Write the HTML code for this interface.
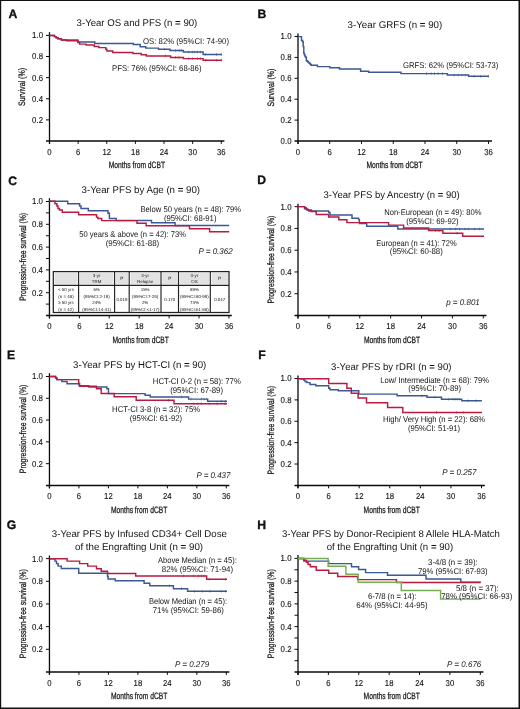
<!DOCTYPE html>
<html><head><meta charset="utf-8"><style>
html,body{margin:0;padding:0;background:#fff;}
body{width:520px;height:709px;overflow:hidden;}
svg{display:block;will-change:transform;}
text{font-family:"Liberation Sans", sans-serif;fill:#141414;text-rendering:geometricPrecision;}
</style></head><body>
<svg width="520" height="709" viewBox="0 0 520 709">
<rect x="0" y="0" width="520" height="709" fill="#fff"/>
<line x1="49.50" y1="32.20" x2="49.50" y2="143.90" stroke="#0a0a0a" stroke-width="1.3"/>
<line x1="46.00" y1="141.00" x2="224.40" y2="141.00" stroke="#0a0a0a" stroke-width="1.5"/>
<line x1="46.00" y1="119.88" x2="49.50" y2="119.88" stroke="#0a0a0a" stroke-width="1.0"/>
<line x1="46.00" y1="98.76" x2="49.50" y2="98.76" stroke="#0a0a0a" stroke-width="1.0"/>
<line x1="46.00" y1="77.64" x2="49.50" y2="77.64" stroke="#0a0a0a" stroke-width="1.0"/>
<line x1="46.00" y1="56.52" x2="49.50" y2="56.52" stroke="#0a0a0a" stroke-width="1.0"/>
<line x1="46.00" y1="35.40" x2="49.50" y2="35.40" stroke="#0a0a0a" stroke-width="1.0"/>
<line x1="49.50" y1="141.00" x2="49.50" y2="143.90" stroke="#0a0a0a" stroke-width="1.0"/>
<line x1="78.13" y1="141.00" x2="78.13" y2="143.90" stroke="#0a0a0a" stroke-width="1.0"/>
<line x1="106.77" y1="141.00" x2="106.77" y2="143.90" stroke="#0a0a0a" stroke-width="1.0"/>
<line x1="135.40" y1="141.00" x2="135.40" y2="143.90" stroke="#0a0a0a" stroke-width="1.0"/>
<line x1="164.03" y1="141.00" x2="164.03" y2="143.90" stroke="#0a0a0a" stroke-width="1.0"/>
<line x1="192.67" y1="141.00" x2="192.67" y2="143.90" stroke="#0a0a0a" stroke-width="1.0"/>
<line x1="221.30" y1="141.00" x2="221.30" y2="143.90" stroke="#0a0a0a" stroke-width="1.0"/>
<text transform="translate(43.00,122.83) scale(0.91,1)" font-size="8.6" text-anchor="end" stroke="#141414" stroke-width="0.12">0.2</text>
<text transform="translate(43.00,101.71) scale(0.91,1)" font-size="8.6" text-anchor="end" stroke="#141414" stroke-width="0.12">0.4</text>
<text transform="translate(43.00,80.59) scale(0.91,1)" font-size="8.6" text-anchor="end" stroke="#141414" stroke-width="0.12">0.6</text>
<text transform="translate(43.00,59.47) scale(0.91,1)" font-size="8.6" text-anchor="end" stroke="#141414" stroke-width="0.12">0.8</text>
<text transform="translate(43.00,38.35) scale(0.91,1)" font-size="8.6" text-anchor="end" stroke="#141414" stroke-width="0.12">1.0</text>
<text transform="translate(49.50,154.60) scale(0.9,1)" font-size="8.6" text-anchor="middle" stroke="#141414" stroke-width="0.12">0</text>
<text transform="translate(78.13,154.60) scale(0.9,1)" font-size="8.6" text-anchor="middle" stroke="#141414" stroke-width="0.12">6</text>
<text transform="translate(106.77,154.60) scale(0.9,1)" font-size="8.6" text-anchor="middle" stroke="#141414" stroke-width="0.12">12</text>
<text transform="translate(135.40,154.60) scale(0.9,1)" font-size="8.6" text-anchor="middle" stroke="#141414" stroke-width="0.12">18</text>
<text transform="translate(164.03,154.60) scale(0.9,1)" font-size="8.6" text-anchor="middle" stroke="#141414" stroke-width="0.12">24</text>
<text transform="translate(192.67,154.60) scale(0.9,1)" font-size="8.6" text-anchor="middle" stroke="#141414" stroke-width="0.12">30</text>
<text transform="translate(221.30,154.60) scale(0.9,1)" font-size="8.6" text-anchor="middle" stroke="#141414" stroke-width="0.12">36</text>
<text x="108.70" y="168.10" font-size="9.2" textLength="56.30" lengthAdjust="spacingAndGlyphs" stroke="#141414" stroke-width="0.25">Months from dCBT</text>
<text transform="translate(25.30,106.00) rotate(-90)" x="0" y="0" font-size="9.3" textLength="38.10" lengthAdjust="spacingAndGlyphs" stroke="#141414" stroke-width="0.25">Survival (%)</text>
<text x="8.50" y="17.75" font-size="12.2" font-weight="bold" fill="#000" stroke="#000" stroke-width="0.3">A</text>
<text x="76.60" y="26.40" font-size="9.8" textLength="120.70" lengthAdjust="spacingAndGlyphs" >3-Year OS and PFS (n <tspan font-weight="bold">=</tspan> 90)</text>
<text x="143.00" y="43.50" font-size="8.3" textLength="86.00" lengthAdjust="spacingAndGlyphs" >OS: 82% (95%CI: 74-90)</text>
<text x="112.00" y="71.00" font-size="8.3" textLength="89.50" lengthAdjust="spacingAndGlyphs" >PFS: 76% (95%CI: 68-86)</text>
<path d="M49.50,35.40H54.50V36.60H56.20V37.80H58.00V38.70H61.40V39.90H77.90V42.00H94.80V43.50H133.40V44.50H140.20V46.70H145.80V48.10H158.50V49.20H170.00V50.50H183.40V52.00H203.10V54.40H221.80" fill="none" stroke="#3a5894" stroke-width="1.45" stroke-linejoin="miter"/>
<path d="M164.60,47.90V50.50M175.60,49.20V51.80M179.20,49.20V51.80M181.40,49.20V51.80M188.70,50.70V53.30M192.40,50.70V53.30M194.60,50.70V53.30M197.50,50.70V53.30M200.40,50.70V53.30M205.60,53.10V55.70M216.50,53.10V55.70M221.40,53.10V55.70" stroke="#3a5894" stroke-width="0.6" fill="none"/>
<path d="M49.50,35.40H54.50V36.60H56.20V37.80H58.00V38.70H61.40V39.90H66.60V40.70H77.90V42.50H79.60V44.10H86.20V45.00H94.20V46.40H98.80V47.60H105.80V49.30H106.90V51.00H112.70V52.50H132.90V53.50H141.20V54.70H146.30V55.90H170.60V57.40H183.40V58.60H203.10V60.20H221.80" fill="none" stroke="#b81a40" stroke-width="1.45" stroke-linejoin="miter"/>
<path d="M165.40,54.60V57.20M175.60,56.10V58.70M179.00,56.10V58.70M188.70,57.30V59.90M192.40,57.30V59.90M197.50,57.30V59.90M200.40,57.30V59.90M205.60,58.90V61.50M216.50,58.90V61.50M221.40,58.90V61.50" stroke="#b81a40" stroke-width="0.6" fill="none"/>
<line x1="298.00" y1="33.50" x2="298.00" y2="143.90" stroke="#0a0a0a" stroke-width="1.3"/>
<line x1="294.50" y1="141.00" x2="492.00" y2="141.00" stroke="#0a0a0a" stroke-width="1.5"/>
<line x1="294.50" y1="120.10" x2="298.00" y2="120.10" stroke="#0a0a0a" stroke-width="1.0"/>
<line x1="294.50" y1="99.20" x2="298.00" y2="99.20" stroke="#0a0a0a" stroke-width="1.0"/>
<line x1="294.50" y1="78.30" x2="298.00" y2="78.30" stroke="#0a0a0a" stroke-width="1.0"/>
<line x1="294.50" y1="57.40" x2="298.00" y2="57.40" stroke="#0a0a0a" stroke-width="1.0"/>
<line x1="294.50" y1="36.50" x2="298.00" y2="36.50" stroke="#0a0a0a" stroke-width="1.0"/>
<line x1="298.00" y1="141.00" x2="298.00" y2="143.90" stroke="#0a0a0a" stroke-width="1.0"/>
<line x1="329.75" y1="141.00" x2="329.75" y2="143.90" stroke="#0a0a0a" stroke-width="1.0"/>
<line x1="361.50" y1="141.00" x2="361.50" y2="143.90" stroke="#0a0a0a" stroke-width="1.0"/>
<line x1="393.25" y1="141.00" x2="393.25" y2="143.90" stroke="#0a0a0a" stroke-width="1.0"/>
<line x1="425.00" y1="141.00" x2="425.00" y2="143.90" stroke="#0a0a0a" stroke-width="1.0"/>
<line x1="456.75" y1="141.00" x2="456.75" y2="143.90" stroke="#0a0a0a" stroke-width="1.0"/>
<line x1="488.50" y1="141.00" x2="488.50" y2="143.90" stroke="#0a0a0a" stroke-width="1.0"/>
<text transform="translate(291.50,143.95) scale(0.91,1)" font-size="8.6" text-anchor="end" stroke="#141414" stroke-width="0.12">0.0</text>
<text transform="translate(291.50,123.05) scale(0.91,1)" font-size="8.6" text-anchor="end" stroke="#141414" stroke-width="0.12">0.2</text>
<text transform="translate(291.50,102.15) scale(0.91,1)" font-size="8.6" text-anchor="end" stroke="#141414" stroke-width="0.12">0.4</text>
<text transform="translate(291.50,81.25) scale(0.91,1)" font-size="8.6" text-anchor="end" stroke="#141414" stroke-width="0.12">0.6</text>
<text transform="translate(291.50,60.35) scale(0.91,1)" font-size="8.6" text-anchor="end" stroke="#141414" stroke-width="0.12">0.8</text>
<text transform="translate(291.50,39.45) scale(0.91,1)" font-size="8.6" text-anchor="end" stroke="#141414" stroke-width="0.12">1.0</text>
<text transform="translate(298.00,154.60) scale(0.9,1)" font-size="8.6" text-anchor="middle" stroke="#141414" stroke-width="0.12">0</text>
<text transform="translate(329.75,154.60) scale(0.9,1)" font-size="8.6" text-anchor="middle" stroke="#141414" stroke-width="0.12">6</text>
<text transform="translate(361.50,154.60) scale(0.9,1)" font-size="8.6" text-anchor="middle" stroke="#141414" stroke-width="0.12">12</text>
<text transform="translate(393.25,154.60) scale(0.9,1)" font-size="8.6" text-anchor="middle" stroke="#141414" stroke-width="0.12">18</text>
<text transform="translate(425.00,154.60) scale(0.9,1)" font-size="8.6" text-anchor="middle" stroke="#141414" stroke-width="0.12">24</text>
<text transform="translate(456.75,154.60) scale(0.9,1)" font-size="8.6" text-anchor="middle" stroke="#141414" stroke-width="0.12">30</text>
<text transform="translate(488.50,154.60) scale(0.9,1)" font-size="8.6" text-anchor="middle" stroke="#141414" stroke-width="0.12">36</text>
<text x="366.40" y="168.10" font-size="9.2" textLength="56.30" lengthAdjust="spacingAndGlyphs" stroke="#141414" stroke-width="0.25">Months from dCBT</text>
<text transform="translate(273.80,106.50) rotate(-90)" x="0" y="0" font-size="9.3" textLength="37.90" lengthAdjust="spacingAndGlyphs" stroke="#141414" stroke-width="0.25">Survival (%)</text>
<text x="257.50" y="17.85" font-size="12.2" font-weight="bold" fill="#000" stroke="#000" stroke-width="0.3">B</text>
<text x="347.60" y="27.60" font-size="9.8" textLength="94.70" lengthAdjust="spacingAndGlyphs" >3-Year GRFS (n <tspan font-weight="bold">=</tspan> 90)</text>
<text x="403.10" y="68.45" font-size="8.3" textLength="95.20" lengthAdjust="spacingAndGlyphs" >GRFS: 62% (95%CI: 53-73)</text>
<path d="M298.00,36.60H301.50V40.50H302.60V41.70H303.20V46.60H303.80V53.20H304.40V55.00H305.00V56.40H305.80V57.50H306.40V60.70H307.20V61.30H307.90V61.90H308.60V62.60H309.30V63.30H310.00V64.00H310.70V64.70H311.30V65.30H317.40V66.60H329.80V67.80H339.50V69.00H360.60V71.20H368.60V72.20H401.00V73.60H447.40V75.00H468.60V76.30H488.90" fill="none" stroke="#3a5894" stroke-width="1.45" stroke-linejoin="miter"/>
<path d="M426.50,72.30V74.90M431.00,72.30V74.90M434.50,72.30V74.90M438.00,72.30V74.90M442.50,72.30V74.90M454.00,73.70V76.30M458.40,73.70V76.30M462.00,73.70V76.30M465.50,73.70V76.30M474.30,75.00V77.60M480.50,75.00V77.60M488.40,75.00V77.60" stroke="#3a5894" stroke-width="0.6" fill="none"/>
<line x1="49.45" y1="198.20" x2="49.45" y2="318.40" stroke="#0a0a0a" stroke-width="1.3"/>
<line x1="45.95" y1="315.50" x2="231.80" y2="315.50" stroke="#0a0a0a" stroke-width="1.5"/>
<line x1="45.95" y1="292.70" x2="49.45" y2="292.70" stroke="#0a0a0a" stroke-width="1.0"/>
<line x1="45.95" y1="269.90" x2="49.45" y2="269.90" stroke="#0a0a0a" stroke-width="1.0"/>
<line x1="45.95" y1="247.10" x2="49.45" y2="247.10" stroke="#0a0a0a" stroke-width="1.0"/>
<line x1="45.95" y1="224.30" x2="49.45" y2="224.30" stroke="#0a0a0a" stroke-width="1.0"/>
<line x1="45.95" y1="201.50" x2="49.45" y2="201.50" stroke="#0a0a0a" stroke-width="1.0"/>
<line x1="45.95" y1="304.10" x2="49.45" y2="304.10" stroke="#0a0a0a" stroke-width="1.0"/>
<line x1="45.95" y1="281.30" x2="49.45" y2="281.30" stroke="#0a0a0a" stroke-width="1.0"/>
<line x1="45.95" y1="258.50" x2="49.45" y2="258.50" stroke="#0a0a0a" stroke-width="1.0"/>
<line x1="45.95" y1="235.70" x2="49.45" y2="235.70" stroke="#0a0a0a" stroke-width="1.0"/>
<line x1="45.95" y1="212.90" x2="49.45" y2="212.90" stroke="#0a0a0a" stroke-width="1.0"/>
<line x1="49.45" y1="315.50" x2="49.45" y2="318.40" stroke="#0a0a0a" stroke-width="1.0"/>
<line x1="79.37" y1="315.50" x2="79.37" y2="318.40" stroke="#0a0a0a" stroke-width="1.0"/>
<line x1="109.28" y1="315.50" x2="109.28" y2="318.40" stroke="#0a0a0a" stroke-width="1.0"/>
<line x1="139.20" y1="315.50" x2="139.20" y2="318.40" stroke="#0a0a0a" stroke-width="1.0"/>
<line x1="169.12" y1="315.50" x2="169.12" y2="318.40" stroke="#0a0a0a" stroke-width="1.0"/>
<line x1="199.03" y1="315.50" x2="199.03" y2="318.40" stroke="#0a0a0a" stroke-width="1.0"/>
<line x1="228.95" y1="315.50" x2="228.95" y2="318.40" stroke="#0a0a0a" stroke-width="1.0"/>
<text transform="translate(42.95,295.65) scale(0.91,1)" font-size="8.6" text-anchor="end" stroke="#141414" stroke-width="0.12">0.2</text>
<text transform="translate(42.95,272.85) scale(0.91,1)" font-size="8.6" text-anchor="end" stroke="#141414" stroke-width="0.12">0.4</text>
<text transform="translate(42.95,250.05) scale(0.91,1)" font-size="8.6" text-anchor="end" stroke="#141414" stroke-width="0.12">0.6</text>
<text transform="translate(42.95,227.25) scale(0.91,1)" font-size="8.6" text-anchor="end" stroke="#141414" stroke-width="0.12">0.8</text>
<text transform="translate(42.95,204.45) scale(0.91,1)" font-size="8.6" text-anchor="end" stroke="#141414" stroke-width="0.12">1.0</text>
<text transform="translate(49.45,329.10) scale(0.9,1)" font-size="8.6" text-anchor="middle" stroke="#141414" stroke-width="0.12">0</text>
<text transform="translate(79.37,329.10) scale(0.9,1)" font-size="8.6" text-anchor="middle" stroke="#141414" stroke-width="0.12">6</text>
<text transform="translate(109.28,329.10) scale(0.9,1)" font-size="8.6" text-anchor="middle" stroke="#141414" stroke-width="0.12">12</text>
<text transform="translate(139.20,329.10) scale(0.9,1)" font-size="8.6" text-anchor="middle" stroke="#141414" stroke-width="0.12">18</text>
<text transform="translate(169.12,329.10) scale(0.9,1)" font-size="8.6" text-anchor="middle" stroke="#141414" stroke-width="0.12">24</text>
<text transform="translate(199.03,329.10) scale(0.9,1)" font-size="8.6" text-anchor="middle" stroke="#141414" stroke-width="0.12">30</text>
<text transform="translate(228.95,329.10) scale(0.9,1)" font-size="8.6" text-anchor="middle" stroke="#141414" stroke-width="0.12">36</text>
<text x="112.50" y="342.60" font-size="9.2" textLength="56.30" lengthAdjust="spacingAndGlyphs" stroke="#141414" stroke-width="0.25">Months from dCBT</text>
<text transform="translate(26.20,300.80) rotate(-90)" x="0" y="0" font-size="9.3" textLength="87.90" lengthAdjust="spacingAndGlyphs" stroke="#141414" stroke-width="0.25">Progression-free survival (%)</text>
<text x="8.30" y="184.65" font-size="12.2" font-weight="bold" fill="#000" stroke="#000" stroke-width="0.3">C</text>
<text x="81.60" y="193.10" font-size="9.8" textLength="118.50" lengthAdjust="spacingAndGlyphs" >3-Year PFS by Age (n <tspan font-weight="bold">=</tspan> 90)</text>
<text x="140.40" y="211.70" font-size="8.3" textLength="100.80" lengthAdjust="spacingAndGlyphs" >Below 50 years (n <tspan font-weight="bold">=</tspan> 48): 79%</text>
<text x="163.90" y="220.50" font-size="8.3" textLength="52.60" lengthAdjust="spacingAndGlyphs" >(95%CI: 68-91)</text>
<text x="79.20" y="237.20" font-size="8.3" textLength="106.80" lengthAdjust="spacingAndGlyphs" >50 years &amp; above (n <tspan font-weight="bold">=</tspan> 42): 73%</text>
<text x="105.70" y="245.50" font-size="8.3" textLength="53.50" lengthAdjust="spacingAndGlyphs" >(95%CI: 61-88)</text>
<text x="198.50" y="253.90" font-size="8.3" textLength="34.20" lengthAdjust="spacingAndGlyphs" font-style="italic" >P <tspan font-weight="bold">=</tspan> 0.362</text>
<path d="M49.60,201.20H67.70V203.70H79.60V206.00H81.00V208.50H88.30V210.80H108.00V213.30H109.40V218.50H116.20V220.50H151.50V222.80H175.10V225.50H229.20" fill="none" stroke="#3a5894" stroke-width="1.45" stroke-linejoin="miter"/>
<path d="M49.60,201.20H55.00V203.70H56.90V206.00H58.00V208.50H59.40V210.00H62.30V212.30H78.70V214.70H96.50V217.10H97.90V218.50H101.70V220.60H137.00V223.30H146.20V225.80H189.50V228.80H209.60V231.80H229.20" fill="none" stroke="#b81a40" stroke-width="1.45" stroke-linejoin="miter"/>
<line x1="298.00" y1="203.80" x2="298.00" y2="318.40" stroke="#0a0a0a" stroke-width="1.3"/>
<line x1="294.50" y1="315.50" x2="486.40" y2="315.50" stroke="#0a0a0a" stroke-width="1.5"/>
<line x1="294.50" y1="293.73" x2="298.00" y2="293.73" stroke="#0a0a0a" stroke-width="1.0"/>
<line x1="294.50" y1="271.96" x2="298.00" y2="271.96" stroke="#0a0a0a" stroke-width="1.0"/>
<line x1="294.50" y1="250.19" x2="298.00" y2="250.19" stroke="#0a0a0a" stroke-width="1.0"/>
<line x1="294.50" y1="228.42" x2="298.00" y2="228.42" stroke="#0a0a0a" stroke-width="1.0"/>
<line x1="294.50" y1="206.65" x2="298.00" y2="206.65" stroke="#0a0a0a" stroke-width="1.0"/>
<line x1="298.00" y1="315.50" x2="298.00" y2="318.40" stroke="#0a0a0a" stroke-width="1.0"/>
<line x1="328.88" y1="315.50" x2="328.88" y2="318.40" stroke="#0a0a0a" stroke-width="1.0"/>
<line x1="359.77" y1="315.50" x2="359.77" y2="318.40" stroke="#0a0a0a" stroke-width="1.0"/>
<line x1="390.65" y1="315.50" x2="390.65" y2="318.40" stroke="#0a0a0a" stroke-width="1.0"/>
<line x1="421.53" y1="315.50" x2="421.53" y2="318.40" stroke="#0a0a0a" stroke-width="1.0"/>
<line x1="452.42" y1="315.50" x2="452.42" y2="318.40" stroke="#0a0a0a" stroke-width="1.0"/>
<line x1="483.30" y1="315.50" x2="483.30" y2="318.40" stroke="#0a0a0a" stroke-width="1.0"/>
<text transform="translate(291.50,296.68) scale(0.91,1)" font-size="8.6" text-anchor="end" stroke="#141414" stroke-width="0.12">0.2</text>
<text transform="translate(291.50,274.91) scale(0.91,1)" font-size="8.6" text-anchor="end" stroke="#141414" stroke-width="0.12">0.4</text>
<text transform="translate(291.50,253.14) scale(0.91,1)" font-size="8.6" text-anchor="end" stroke="#141414" stroke-width="0.12">0.6</text>
<text transform="translate(291.50,231.37) scale(0.91,1)" font-size="8.6" text-anchor="end" stroke="#141414" stroke-width="0.12">0.8</text>
<text transform="translate(291.50,209.60) scale(0.91,1)" font-size="8.6" text-anchor="end" stroke="#141414" stroke-width="0.12">1.0</text>
<text transform="translate(298.00,329.10) scale(0.9,1)" font-size="8.6" text-anchor="middle" stroke="#141414" stroke-width="0.12">0</text>
<text transform="translate(328.88,329.10) scale(0.9,1)" font-size="8.6" text-anchor="middle" stroke="#141414" stroke-width="0.12">6</text>
<text transform="translate(359.77,329.10) scale(0.9,1)" font-size="8.6" text-anchor="middle" stroke="#141414" stroke-width="0.12">12</text>
<text transform="translate(390.65,329.10) scale(0.9,1)" font-size="8.6" text-anchor="middle" stroke="#141414" stroke-width="0.12">18</text>
<text transform="translate(421.53,329.10) scale(0.9,1)" font-size="8.6" text-anchor="middle" stroke="#141414" stroke-width="0.12">24</text>
<text transform="translate(452.42,329.10) scale(0.9,1)" font-size="8.6" text-anchor="middle" stroke="#141414" stroke-width="0.12">30</text>
<text transform="translate(483.30,329.10) scale(0.9,1)" font-size="8.6" text-anchor="middle" stroke="#141414" stroke-width="0.12">36</text>
<text x="363.90" y="342.60" font-size="9.2" textLength="56.30" lengthAdjust="spacingAndGlyphs" stroke="#141414" stroke-width="0.25">Months from dCBT</text>
<text transform="translate(273.90,303.60) rotate(-90)" x="0" y="0" font-size="9.3" textLength="88.00" lengthAdjust="spacingAndGlyphs" stroke="#141414" stroke-width="0.25">Progression-free survival (%)</text>
<text x="257.30" y="184.15" font-size="12.2" font-weight="bold" fill="#000" stroke="#000" stroke-width="0.3">D</text>
<text x="323.60" y="198.30" font-size="9.8" textLength="136.10" lengthAdjust="spacingAndGlyphs" >3-Year PFS by Ancestry (n <tspan font-weight="bold">=</tspan> 90)</text>
<text x="384.20" y="215.20" font-size="8.3" textLength="97.30" lengthAdjust="spacingAndGlyphs" >Non-European (n <tspan font-weight="bold">=</tspan> 49): 80%</text>
<text x="406.20" y="223.70" font-size="8.3" textLength="52.50" lengthAdjust="spacingAndGlyphs" >(95%CI: 69-92)</text>
<text x="376.30" y="245.80" font-size="8.3" textLength="80.30" lengthAdjust="spacingAndGlyphs" >European (n <tspan font-weight="bold">=</tspan> 41): 72%</text>
<text x="389.80" y="254.00" font-size="8.3" textLength="53.00" lengthAdjust="spacingAndGlyphs" >(95%CI: 60-88)</text>
<text x="446.20" y="304.60" font-size="8.3" textLength="33.60" lengthAdjust="spacingAndGlyphs" font-style="italic" >p <tspan font-weight="bold">=</tspan> 0.801</text>
<path d="M297.80,206.60H304.60V208.70H306.90V210.00H308.80V211.00H328.70V212.50H330.00V215.00H352.00V218.30H358.60V219.60H359.40V223.50H366.70V226.30H397.80V229.00H484.00" fill="none" stroke="#3a5894" stroke-width="1.45" stroke-linejoin="miter"/>
<path d="M450.20,227.70V230.30M455.40,227.70V230.30M459.70,227.70V230.30M464.90,227.70V230.30M468.30,227.70V230.30M474.40,227.70V230.30M479.60,227.70V230.30" stroke="#3a5894" stroke-width="0.6" fill="none"/>
<path d="M297.80,206.60H304.60V207.70H306.20V209.20H308.00V210.00H311.30V211.50H316.20V214.40H328.70V216.90H338.80V219.80H346.90V222.60H388.60V225.10H403.60V228.00H428.60V230.60H442.90V233.20H462.70V236.30H484.00" fill="none" stroke="#b81a40" stroke-width="1.45" stroke-linejoin="miter"/>
<path d="M435.50,229.30V231.90M439.00,229.30V231.90M457.10,231.90V234.50" stroke="#b81a40" stroke-width="0.6" fill="none"/>
<line x1="49.45" y1="373.20" x2="49.45" y2="488.35" stroke="#0a0a0a" stroke-width="1.3"/>
<line x1="45.95" y1="485.45" x2="229.40" y2="485.45" stroke="#0a0a0a" stroke-width="1.5"/>
<line x1="45.95" y1="463.66" x2="49.45" y2="463.66" stroke="#0a0a0a" stroke-width="1.0"/>
<line x1="45.95" y1="441.87" x2="49.45" y2="441.87" stroke="#0a0a0a" stroke-width="1.0"/>
<line x1="45.95" y1="420.08" x2="49.45" y2="420.08" stroke="#0a0a0a" stroke-width="1.0"/>
<line x1="45.95" y1="398.29" x2="49.45" y2="398.29" stroke="#0a0a0a" stroke-width="1.0"/>
<line x1="45.95" y1="376.50" x2="49.45" y2="376.50" stroke="#0a0a0a" stroke-width="1.0"/>
<line x1="49.45" y1="485.45" x2="49.45" y2="488.35" stroke="#0a0a0a" stroke-width="1.0"/>
<line x1="78.93" y1="485.45" x2="78.93" y2="488.35" stroke="#0a0a0a" stroke-width="1.0"/>
<line x1="108.40" y1="485.45" x2="108.40" y2="488.35" stroke="#0a0a0a" stroke-width="1.0"/>
<line x1="137.88" y1="485.45" x2="137.88" y2="488.35" stroke="#0a0a0a" stroke-width="1.0"/>
<line x1="167.35" y1="485.45" x2="167.35" y2="488.35" stroke="#0a0a0a" stroke-width="1.0"/>
<line x1="196.83" y1="485.45" x2="196.83" y2="488.35" stroke="#0a0a0a" stroke-width="1.0"/>
<line x1="226.30" y1="485.45" x2="226.30" y2="488.35" stroke="#0a0a0a" stroke-width="1.0"/>
<text transform="translate(42.95,466.61) scale(0.91,1)" font-size="8.6" text-anchor="end" stroke="#141414" stroke-width="0.12">0.2</text>
<text transform="translate(42.95,444.82) scale(0.91,1)" font-size="8.6" text-anchor="end" stroke="#141414" stroke-width="0.12">0.4</text>
<text transform="translate(42.95,423.03) scale(0.91,1)" font-size="8.6" text-anchor="end" stroke="#141414" stroke-width="0.12">0.6</text>
<text transform="translate(42.95,401.24) scale(0.91,1)" font-size="8.6" text-anchor="end" stroke="#141414" stroke-width="0.12">0.8</text>
<text transform="translate(42.95,379.45) scale(0.91,1)" font-size="8.6" text-anchor="end" stroke="#141414" stroke-width="0.12">1.0</text>
<text transform="translate(49.45,499.05) scale(0.9,1)" font-size="8.6" text-anchor="middle" stroke="#141414" stroke-width="0.12">0</text>
<text transform="translate(78.93,499.05) scale(0.9,1)" font-size="8.6" text-anchor="middle" stroke="#141414" stroke-width="0.12">6</text>
<text transform="translate(108.40,499.05) scale(0.9,1)" font-size="8.6" text-anchor="middle" stroke="#141414" stroke-width="0.12">12</text>
<text transform="translate(137.88,499.05) scale(0.9,1)" font-size="8.6" text-anchor="middle" stroke="#141414" stroke-width="0.12">18</text>
<text transform="translate(167.35,499.05) scale(0.9,1)" font-size="8.6" text-anchor="middle" stroke="#141414" stroke-width="0.12">24</text>
<text transform="translate(196.83,499.05) scale(0.9,1)" font-size="8.6" text-anchor="middle" stroke="#141414" stroke-width="0.12">30</text>
<text transform="translate(226.30,499.05) scale(0.9,1)" font-size="8.6" text-anchor="middle" stroke="#141414" stroke-width="0.12">36</text>
<text x="111.00" y="512.55" font-size="9.2" textLength="56.30" lengthAdjust="spacingAndGlyphs" stroke="#141414" stroke-width="0.25">Months from dCBT</text>
<text transform="translate(25.90,473.20) rotate(-90)" x="0" y="0" font-size="9.3" textLength="88.60" lengthAdjust="spacingAndGlyphs" stroke="#141414" stroke-width="0.25">Progression-free survival (%)</text>
<text x="7.10" y="359.05" font-size="12.2" font-weight="bold" fill="#000" stroke="#000" stroke-width="0.3">E</text>
<text x="73.10" y="367.80" font-size="9.8" textLength="133.20" lengthAdjust="spacingAndGlyphs" >3-Year PFS by HCT-CI (n <tspan font-weight="bold">=</tspan> 90)</text>
<text x="152.80" y="383.90" font-size="8.3" textLength="88.00" lengthAdjust="spacingAndGlyphs" >HCT-CI 0-2 (n <tspan font-weight="bold">=</tspan> 58): 77%</text>
<text x="170.20" y="392.50" font-size="8.3" textLength="52.80" lengthAdjust="spacingAndGlyphs" >(95%CI: 67-89)</text>
<text x="112.10" y="411.50" font-size="8.3" textLength="88.00" lengthAdjust="spacingAndGlyphs" >HCT-CI 3-8 (n <tspan font-weight="bold">=</tspan> 32): 75%</text>
<text x="129.70" y="420.70" font-size="8.3" textLength="52.50" lengthAdjust="spacingAndGlyphs" >(95%CI: 61-92)</text>
<text x="196.50" y="477.60" font-size="8.3" textLength="33.90" lengthAdjust="spacingAndGlyphs" font-style="italic" >P <tspan font-weight="bold">=</tspan> 0.437</text>
<path d="M49.60,376.50H55.60V378.10H56.90V379.60H61.90V381.50H67.10V383.80H79.20V385.80H88.80V386.90H106.90V388.80H108.50V393.60H145.10V395.20H150.20V396.90H188.60V399.10H207.70V401.20H227.00" fill="none" stroke="#3a5894" stroke-width="1.45" stroke-linejoin="miter"/>
<path d="M181.50,395.60V398.20M191.00,397.80V400.40M201.40,397.80V400.40M204.00,397.80V400.40M206.60,397.80V400.40M221.30,399.90V402.50M225.60,399.90V402.50" stroke="#3a5894" stroke-width="0.6" fill="none"/>
<path d="M49.60,376.50H55.60V377.70H56.90V379.60H78.70V383.50H79.60V386.30H96.50V388.80H101.20V393.50H114.20V396.80H136.20V400.30H174.00V403.80H227.00" fill="none" stroke="#b81a40" stroke-width="1.45" stroke-linejoin="miter"/>
<path d="M168.50,399.00V401.60M193.60,402.50V405.10M198.00,402.50V405.10M201.40,402.50V405.10M209.20,402.50V405.10M217.00,402.50V405.10M224.80,402.50V405.10" stroke="#b81a40" stroke-width="0.6" fill="none"/>
<line x1="298.00" y1="375.40" x2="298.00" y2="488.30" stroke="#0a0a0a" stroke-width="1.3"/>
<line x1="294.50" y1="485.40" x2="484.80" y2="485.40" stroke="#0a0a0a" stroke-width="1.5"/>
<line x1="294.50" y1="464.02" x2="298.00" y2="464.02" stroke="#0a0a0a" stroke-width="1.0"/>
<line x1="294.50" y1="442.64" x2="298.00" y2="442.64" stroke="#0a0a0a" stroke-width="1.0"/>
<line x1="294.50" y1="421.26" x2="298.00" y2="421.26" stroke="#0a0a0a" stroke-width="1.0"/>
<line x1="294.50" y1="399.88" x2="298.00" y2="399.88" stroke="#0a0a0a" stroke-width="1.0"/>
<line x1="294.50" y1="378.50" x2="298.00" y2="378.50" stroke="#0a0a0a" stroke-width="1.0"/>
<line x1="298.00" y1="485.40" x2="298.00" y2="488.30" stroke="#0a0a0a" stroke-width="1.0"/>
<line x1="328.58" y1="485.40" x2="328.58" y2="488.30" stroke="#0a0a0a" stroke-width="1.0"/>
<line x1="359.17" y1="485.40" x2="359.17" y2="488.30" stroke="#0a0a0a" stroke-width="1.0"/>
<line x1="389.75" y1="485.40" x2="389.75" y2="488.30" stroke="#0a0a0a" stroke-width="1.0"/>
<line x1="420.33" y1="485.40" x2="420.33" y2="488.30" stroke="#0a0a0a" stroke-width="1.0"/>
<line x1="450.92" y1="485.40" x2="450.92" y2="488.30" stroke="#0a0a0a" stroke-width="1.0"/>
<line x1="481.50" y1="485.40" x2="481.50" y2="488.30" stroke="#0a0a0a" stroke-width="1.0"/>
<text transform="translate(291.50,466.97) scale(0.91,1)" font-size="8.6" text-anchor="end" stroke="#141414" stroke-width="0.12">0.2</text>
<text transform="translate(291.50,445.59) scale(0.91,1)" font-size="8.6" text-anchor="end" stroke="#141414" stroke-width="0.12">0.4</text>
<text transform="translate(291.50,424.21) scale(0.91,1)" font-size="8.6" text-anchor="end" stroke="#141414" stroke-width="0.12">0.6</text>
<text transform="translate(291.50,402.83) scale(0.91,1)" font-size="8.6" text-anchor="end" stroke="#141414" stroke-width="0.12">0.8</text>
<text transform="translate(291.50,381.45) scale(0.91,1)" font-size="8.6" text-anchor="end" stroke="#141414" stroke-width="0.12">1.0</text>
<text transform="translate(298.00,499.00) scale(0.9,1)" font-size="8.6" text-anchor="middle" stroke="#141414" stroke-width="0.12">0</text>
<text transform="translate(328.58,499.00) scale(0.9,1)" font-size="8.6" text-anchor="middle" stroke="#141414" stroke-width="0.12">6</text>
<text transform="translate(359.17,499.00) scale(0.9,1)" font-size="8.6" text-anchor="middle" stroke="#141414" stroke-width="0.12">12</text>
<text transform="translate(389.75,499.00) scale(0.9,1)" font-size="8.6" text-anchor="middle" stroke="#141414" stroke-width="0.12">18</text>
<text transform="translate(420.33,499.00) scale(0.9,1)" font-size="8.6" text-anchor="middle" stroke="#141414" stroke-width="0.12">24</text>
<text transform="translate(450.92,499.00) scale(0.9,1)" font-size="8.6" text-anchor="middle" stroke="#141414" stroke-width="0.12">30</text>
<text transform="translate(481.50,499.00) scale(0.9,1)" font-size="8.6" text-anchor="middle" stroke="#141414" stroke-width="0.12">36</text>
<text x="363.60" y="512.50" font-size="9.2" textLength="56.30" lengthAdjust="spacingAndGlyphs" stroke="#141414" stroke-width="0.25">Months from dCBT</text>
<text transform="translate(273.90,474.40) rotate(-90)" x="0" y="0" font-size="9.3" textLength="88.40" lengthAdjust="spacingAndGlyphs" stroke="#141414" stroke-width="0.25">Progression-free survival (%)</text>
<text x="258.20" y="359.05" font-size="12.2" font-weight="bold" fill="#000" stroke="#000" stroke-width="0.3">F</text>
<text x="331.10" y="369.50" font-size="9.8" textLength="120.40" lengthAdjust="spacingAndGlyphs" >3-Year PFS by rDRI (n <tspan font-weight="bold">=</tspan> 90)</text>
<text x="380.20" y="382.70" font-size="8.3" textLength="108.80" lengthAdjust="spacingAndGlyphs" >Low/ Intermediate (n <tspan font-weight="bold">=</tspan> 68): 79%</text>
<text x="408.30" y="391.30" font-size="8.3" textLength="52.90" lengthAdjust="spacingAndGlyphs" >(95%CI: 70-89)</text>
<text x="382.90" y="422.10" font-size="8.3" textLength="102.30" lengthAdjust="spacingAndGlyphs" >High/ Very High (n <tspan font-weight="bold">=</tspan> 22): 68%</text>
<text x="407.90" y="430.70" font-size="8.3" textLength="52.30" lengthAdjust="spacingAndGlyphs" >(95%CI: 51-91)</text>
<text x="442.30" y="474.90" font-size="8.3" textLength="34.20" lengthAdjust="spacingAndGlyphs" font-style="italic" >P <tspan font-weight="bold">=</tspan> 0.257</text>
<path d="M297.80,378.70H303.70V380.10H305.00V381.50H306.90V382.60H310.00V384.50H315.80V385.80H328.70V388.30H330.00V389.70H338.30V390.80H358.80V394.10H397.10V395.80H427.00V397.20H441.50V399.20H461.70V400.80H481.90" fill="none" stroke="#3a5894" stroke-width="1.45" stroke-linejoin="miter"/>
<path d="M421.80,394.50V397.10M434.80,395.90V398.50M448.60,397.90V400.50M453.00,397.90V400.50M455.00,397.90V400.50M457.20,397.90V400.50M459.40,397.90V400.50M467.70,399.50V402.10M476.30,399.50V402.10" stroke="#3a5894" stroke-width="0.6" fill="none"/>
<path d="M297.80,378.70H328.70V383.50H346.90V388.30H351.30V393.20H358.10V398.00H366.50V402.80H387.60V407.40H402.80V412.40H481.90" fill="none" stroke="#b81a40" stroke-width="1.45" stroke-linejoin="miter"/>
<path d="M436.50,411.10V413.70M456.40,411.10V413.70M463.30,411.10V413.70" stroke="#b81a40" stroke-width="0.6" fill="none"/>
<line x1="49.45" y1="555.50" x2="49.45" y2="674.85" stroke="#0a0a0a" stroke-width="1.3"/>
<line x1="45.95" y1="671.95" x2="229.40" y2="671.95" stroke="#0a0a0a" stroke-width="1.5"/>
<line x1="45.95" y1="649.29" x2="49.45" y2="649.29" stroke="#0a0a0a" stroke-width="1.0"/>
<line x1="45.95" y1="626.63" x2="49.45" y2="626.63" stroke="#0a0a0a" stroke-width="1.0"/>
<line x1="45.95" y1="603.97" x2="49.45" y2="603.97" stroke="#0a0a0a" stroke-width="1.0"/>
<line x1="45.95" y1="581.31" x2="49.45" y2="581.31" stroke="#0a0a0a" stroke-width="1.0"/>
<line x1="45.95" y1="558.65" x2="49.45" y2="558.65" stroke="#0a0a0a" stroke-width="1.0"/>
<line x1="49.45" y1="671.95" x2="49.45" y2="674.85" stroke="#0a0a0a" stroke-width="1.0"/>
<line x1="78.93" y1="671.95" x2="78.93" y2="674.85" stroke="#0a0a0a" stroke-width="1.0"/>
<line x1="108.40" y1="671.95" x2="108.40" y2="674.85" stroke="#0a0a0a" stroke-width="1.0"/>
<line x1="137.88" y1="671.95" x2="137.88" y2="674.85" stroke="#0a0a0a" stroke-width="1.0"/>
<line x1="167.35" y1="671.95" x2="167.35" y2="674.85" stroke="#0a0a0a" stroke-width="1.0"/>
<line x1="196.83" y1="671.95" x2="196.83" y2="674.85" stroke="#0a0a0a" stroke-width="1.0"/>
<line x1="226.30" y1="671.95" x2="226.30" y2="674.85" stroke="#0a0a0a" stroke-width="1.0"/>
<text transform="translate(42.95,652.24) scale(0.91,1)" font-size="8.6" text-anchor="end" stroke="#141414" stroke-width="0.12">0.2</text>
<text transform="translate(42.95,629.58) scale(0.91,1)" font-size="8.6" text-anchor="end" stroke="#141414" stroke-width="0.12">0.4</text>
<text transform="translate(42.95,606.92) scale(0.91,1)" font-size="8.6" text-anchor="end" stroke="#141414" stroke-width="0.12">0.6</text>
<text transform="translate(42.95,584.26) scale(0.91,1)" font-size="8.6" text-anchor="end" stroke="#141414" stroke-width="0.12">0.8</text>
<text transform="translate(42.95,561.60) scale(0.91,1)" font-size="8.6" text-anchor="end" stroke="#141414" stroke-width="0.12">1.0</text>
<text transform="translate(49.45,685.55) scale(0.9,1)" font-size="8.6" text-anchor="middle" stroke="#141414" stroke-width="0.12">0</text>
<text transform="translate(78.93,685.55) scale(0.9,1)" font-size="8.6" text-anchor="middle" stroke="#141414" stroke-width="0.12">6</text>
<text transform="translate(108.40,685.55) scale(0.9,1)" font-size="8.6" text-anchor="middle" stroke="#141414" stroke-width="0.12">12</text>
<text transform="translate(137.88,685.55) scale(0.9,1)" font-size="8.6" text-anchor="middle" stroke="#141414" stroke-width="0.12">18</text>
<text transform="translate(167.35,685.55) scale(0.9,1)" font-size="8.6" text-anchor="middle" stroke="#141414" stroke-width="0.12">24</text>
<text transform="translate(196.83,685.55) scale(0.9,1)" font-size="8.6" text-anchor="middle" stroke="#141414" stroke-width="0.12">30</text>
<text transform="translate(226.30,685.55) scale(0.9,1)" font-size="8.6" text-anchor="middle" stroke="#141414" stroke-width="0.12">36</text>
<text x="111.00" y="699.05" font-size="9.2" textLength="56.30" lengthAdjust="spacingAndGlyphs" stroke="#141414" stroke-width="0.25">Months from dCBT</text>
<text transform="translate(25.90,658.20) rotate(-90)" x="0" y="0" font-size="9.3" textLength="89.00" lengthAdjust="spacingAndGlyphs" stroke="#141414" stroke-width="0.25">Progression-free survival (%)</text>
<text x="6.70" y="528.95" font-size="12.2" font-weight="bold" fill="#000" stroke="#000" stroke-width="0.3">G</text>
<text x="51.80" y="537.20" font-size="9.8" textLength="175.20" lengthAdjust="spacingAndGlyphs" >3-Year PFS by Infused CD34+ Cell Dose</text>
<text x="75.00" y="549.80" font-size="9.8" textLength="128.10" lengthAdjust="spacingAndGlyphs" >of the Engrafting Unit (n <tspan font-weight="bold">=</tspan> 90)</text>
<text x="158.00" y="563.20" font-size="8.3" textLength="78.90" lengthAdjust="spacingAndGlyphs" >Above Median (n <tspan font-weight="bold">=</tspan> 45):</text>
<text x="161.80" y="572.00" font-size="8.3" textLength="71.30" lengthAdjust="spacingAndGlyphs" >82% (95%CI: 71-94)</text>
<text x="148.90" y="604.00" font-size="8.3" textLength="78.30" lengthAdjust="spacingAndGlyphs" >Below Median (n <tspan font-weight="bold">=</tspan> 45):</text>
<text x="152.70" y="612.90" font-size="8.3" textLength="71.30" lengthAdjust="spacingAndGlyphs" >71% (95%CI: 59-86)</text>
<text x="175.00" y="666.50" font-size="8.3" textLength="34.20" lengthAdjust="spacingAndGlyphs" font-style="italic" >P <tspan font-weight="bold">=</tspan> 0.279</text>
<path d="M49.60,558.80H55.00V561.10H56.50V563.60H58.10V566.10H61.30V568.40H78.70V573.20H107.50V576.50H108.10V579.00H115.20V580.80H144.10V583.20H149.80V585.80H173.40V588.70H187.60V591.30H227.00" fill="none" stroke="#3a5894" stroke-width="1.45" stroke-linejoin="miter"/>
<path d="M169.40,584.50V587.10M181.50,587.40V590.00M194.50,590.00V592.60M202.30,590.00V592.60M210.00,590.00V592.60M221.30,590.00V592.60M225.60,590.00V592.60" stroke="#3a5894" stroke-width="0.6" fill="none"/>
<path d="M49.60,558.80H67.10V561.10H79.60V563.60H87.70V566.10H96.50V568.80H101.20V571.30H107.50V573.50H135.70V575.90H206.70V579.20H227.00" fill="none" stroke="#b81a40" stroke-width="1.45" stroke-linejoin="miter"/>
<path d="M183.30,574.60V577.20M193.60,574.60V577.20M198.80,574.60V577.20M201.40,574.60V577.20M204.00,574.60V577.20M209.20,577.90V580.50M225.60,577.90V580.50" stroke="#b81a40" stroke-width="0.6" fill="none"/>
<line x1="298.00" y1="555.10" x2="298.00" y2="674.95" stroke="#0a0a0a" stroke-width="1.3"/>
<line x1="294.50" y1="672.05" x2="483.40" y2="672.05" stroke="#0a0a0a" stroke-width="1.5"/>
<line x1="294.50" y1="649.32" x2="298.00" y2="649.32" stroke="#0a0a0a" stroke-width="1.0"/>
<line x1="294.50" y1="626.59" x2="298.00" y2="626.59" stroke="#0a0a0a" stroke-width="1.0"/>
<line x1="294.50" y1="603.86" x2="298.00" y2="603.86" stroke="#0a0a0a" stroke-width="1.0"/>
<line x1="294.50" y1="581.13" x2="298.00" y2="581.13" stroke="#0a0a0a" stroke-width="1.0"/>
<line x1="294.50" y1="558.40" x2="298.00" y2="558.40" stroke="#0a0a0a" stroke-width="1.0"/>
<line x1="294.50" y1="660.68" x2="298.00" y2="660.68" stroke="#0a0a0a" stroke-width="1.0"/>
<line x1="294.50" y1="637.95" x2="298.00" y2="637.95" stroke="#0a0a0a" stroke-width="1.0"/>
<line x1="294.50" y1="615.22" x2="298.00" y2="615.22" stroke="#0a0a0a" stroke-width="1.0"/>
<line x1="294.50" y1="592.50" x2="298.00" y2="592.50" stroke="#0a0a0a" stroke-width="1.0"/>
<line x1="294.50" y1="569.76" x2="298.00" y2="569.76" stroke="#0a0a0a" stroke-width="1.0"/>
<line x1="298.00" y1="672.05" x2="298.00" y2="674.95" stroke="#0a0a0a" stroke-width="1.0"/>
<line x1="328.38" y1="672.05" x2="328.38" y2="674.95" stroke="#0a0a0a" stroke-width="1.0"/>
<line x1="358.77" y1="672.05" x2="358.77" y2="674.95" stroke="#0a0a0a" stroke-width="1.0"/>
<line x1="389.15" y1="672.05" x2="389.15" y2="674.95" stroke="#0a0a0a" stroke-width="1.0"/>
<line x1="419.53" y1="672.05" x2="419.53" y2="674.95" stroke="#0a0a0a" stroke-width="1.0"/>
<line x1="449.92" y1="672.05" x2="449.92" y2="674.95" stroke="#0a0a0a" stroke-width="1.0"/>
<line x1="480.30" y1="672.05" x2="480.30" y2="674.95" stroke="#0a0a0a" stroke-width="1.0"/>
<text transform="translate(291.50,652.27) scale(0.91,1)" font-size="8.6" text-anchor="end" stroke="#141414" stroke-width="0.12">0.2</text>
<text transform="translate(291.50,629.54) scale(0.91,1)" font-size="8.6" text-anchor="end" stroke="#141414" stroke-width="0.12">0.4</text>
<text transform="translate(291.50,606.81) scale(0.91,1)" font-size="8.6" text-anchor="end" stroke="#141414" stroke-width="0.12">0.6</text>
<text transform="translate(291.50,584.08) scale(0.91,1)" font-size="8.6" text-anchor="end" stroke="#141414" stroke-width="0.12">0.8</text>
<text transform="translate(291.50,561.35) scale(0.91,1)" font-size="8.6" text-anchor="end" stroke="#141414" stroke-width="0.12">1.0</text>
<text transform="translate(298.00,685.65) scale(0.9,1)" font-size="8.6" text-anchor="middle" stroke="#141414" stroke-width="0.12">0</text>
<text transform="translate(328.38,685.65) scale(0.9,1)" font-size="8.6" text-anchor="middle" stroke="#141414" stroke-width="0.12">6</text>
<text transform="translate(358.77,685.65) scale(0.9,1)" font-size="8.6" text-anchor="middle" stroke="#141414" stroke-width="0.12">12</text>
<text transform="translate(389.15,685.65) scale(0.9,1)" font-size="8.6" text-anchor="middle" stroke="#141414" stroke-width="0.12">18</text>
<text transform="translate(419.53,685.65) scale(0.9,1)" font-size="8.6" text-anchor="middle" stroke="#141414" stroke-width="0.12">24</text>
<text transform="translate(449.92,685.65) scale(0.9,1)" font-size="8.6" text-anchor="middle" stroke="#141414" stroke-width="0.12">30</text>
<text transform="translate(480.30,685.65) scale(0.9,1)" font-size="8.6" text-anchor="middle" stroke="#141414" stroke-width="0.12">36</text>
<text x="363.60" y="699.15" font-size="9.2" textLength="56.30" lengthAdjust="spacingAndGlyphs" stroke="#141414" stroke-width="0.25">Months from dCBT</text>
<text transform="translate(273.90,658.20) rotate(-90)" x="0" y="0" font-size="9.3" textLength="89.00" lengthAdjust="spacingAndGlyphs" stroke="#141414" stroke-width="0.25">Progression-free survival (%)</text>
<text x="257.30" y="528.95" font-size="12.2" font-weight="bold" fill="#000" stroke="#000" stroke-width="0.3">H</text>
<text x="281.90" y="537.40" font-size="9.8" textLength="218.00" lengthAdjust="spacingAndGlyphs" >3-Year PFS by Donor-Recipient 8 Allele HLA-Match</text>
<text x="326.70" y="549.90" font-size="9.8" textLength="126.40" lengthAdjust="spacingAndGlyphs" >of the Engrafting Unit (n <tspan font-weight="bold">=</tspan> 90)</text>
<text x="428.10" y="564.90" font-size="8.3" textLength="49.60" lengthAdjust="spacingAndGlyphs" >3-4/8 (n <tspan font-weight="bold">=</tspan> 39):</text>
<text x="417.90" y="574.30" font-size="8.3" textLength="69.80" lengthAdjust="spacingAndGlyphs" >79% (95%CI: 67-93)</text>
<text x="456.00" y="590.70" font-size="8.3" textLength="42.80" lengthAdjust="spacingAndGlyphs" >5/8 (n <tspan font-weight="bold">=</tspan> 37):</text>
<text x="367.90" y="598.60" font-size="8.3" textLength="48.60" lengthAdjust="spacingAndGlyphs" >6-7/8 (n <tspan font-weight="bold">=</tspan> 14):</text>
<text x="356.30" y="607.80" font-size="8.3" textLength="71.20" lengthAdjust="spacingAndGlyphs" >64% (95%CI: 44-95)</text>
<text x="447.10" y="667.20" font-size="8.3" textLength="34.20" lengthAdjust="spacingAndGlyphs" font-style="italic" >P <tspan font-weight="bold">=</tspan> 0.676</text>
<path d="M297.70,558.40H303.70V561.10H328.70V563.60H351.50V566.70H358.60V569.40H365.60V572.60H387.50V575.30H426.00V579.00H460.80V582.10H480.70" fill="none" stroke="#3a5894" stroke-width="1.45" stroke-linejoin="miter"/>
<path d="M297.70,558.40H304.20V560.30H306.50V562.20H308.10V564.50H310.40V566.80H316.20V570.30H328.70V573.20H337.70V576.50H357.60V579.60H396.50V582.40H480.70" fill="none" stroke="#b81a40" stroke-width="1.45" stroke-linejoin="miter"/>
<path d="M297.70,558.40H328.10V566.30H345.90V574.20H358.20V582.30H401.30V590.40H440.60V599.10H480.70" fill="none" stroke="#74b052" stroke-width="1.45" stroke-linejoin="miter"/>
<text x="441.20" y="599.00" font-size="8.3" textLength="71.10" lengthAdjust="spacingAndGlyphs" >78% (95%CI: 66-93)</text>
<rect x="54.60" y="272.90" width="22.80" height="11.40" fill="#e2e2e2"/>
<rect x="79.90" y="272.90" width="33.50" height="11.40" fill="#e2e2e2"/>
<rect x="115.90" y="272.90" width="12.10" height="11.40" fill="#e2e2e2"/>
<rect x="130.50" y="272.90" width="29.30" height="11.40" fill="#e2e2e2"/>
<rect x="162.30" y="272.90" width="15.00" height="11.40" fill="#e2e2e2"/>
<rect x="179.80" y="272.90" width="29.30" height="11.40" fill="#e2e2e2"/>
<rect x="211.60" y="272.90" width="16.20" height="11.40" fill="#e2e2e2"/>
<rect x="53.3" y="271.6" width="175.70" height="40.90" fill="none" stroke="#222" stroke-width="1.25"/>
<line x1="53.30" y1="285.40" x2="229.00" y2="285.40" stroke="#222" stroke-width="1.1"/>
<line x1="78.60" y1="271.60" x2="78.60" y2="312.50" stroke="#222" stroke-width="1.15"/>
<line x1="114.60" y1="271.60" x2="114.60" y2="312.50" stroke="#222" stroke-width="1.15"/>
<line x1="129.20" y1="271.60" x2="129.20" y2="312.50" stroke="#222" stroke-width="1.15"/>
<line x1="161.00" y1="271.60" x2="161.00" y2="312.50" stroke="#222" stroke-width="1.15"/>
<line x1="178.50" y1="271.60" x2="178.50" y2="312.50" stroke="#222" stroke-width="1.15"/>
<line x1="210.30" y1="271.60" x2="210.30" y2="312.50" stroke="#222" stroke-width="1.15"/>
<text transform="translate(96.60,276.90) scale(0.440)" font-size="10" text-anchor="middle" fill="#8c8c8c" text-rendering="geometricPrecision">3-yr</text>
<text transform="translate(96.60,283.00) scale(0.440)" font-size="10" text-anchor="middle" fill="#8c8c8c" text-rendering="geometricPrecision">TRM</text>
<text transform="translate(145.10,276.90) scale(0.440)" font-size="10" text-anchor="middle" fill="#8c8c8c" text-rendering="geometricPrecision">3-yr</text>
<text transform="translate(145.10,283.00) scale(0.440)" font-size="10" text-anchor="middle" fill="#8c8c8c" text-rendering="geometricPrecision">Relapse</text>
<text transform="translate(194.40,276.90) scale(0.440)" font-size="10" text-anchor="middle" fill="#8c8c8c" text-rendering="geometricPrecision">3-yr</text>
<text transform="translate(194.40,283.00) scale(0.440)" font-size="10" text-anchor="middle" fill="#8c8c8c" text-rendering="geometricPrecision">OS</text>
<text transform="translate(121.90,280.2) scale(0.46)" font-size="10" text-anchor="middle" fill="#7a7a7a">P</text>
<text transform="translate(169.75,280.2) scale(0.46)" font-size="10" text-anchor="middle" fill="#7a7a7a">P</text>
<text transform="translate(219.65,280.2) scale(0.46)" font-size="10" text-anchor="middle" fill="#7a7a7a">P</text>
<text transform="translate(65.95,291.30) scale(0.440)" font-size="10" text-anchor="middle" fill="#8c8c8c" text-rendering="geometricPrecision">&lt; 50 yrs</text>
<text transform="translate(65.95,297.70) scale(0.440)" font-size="10" text-anchor="middle" fill="#8c8c8c" text-rendering="geometricPrecision">(n = 48)</text>
<text transform="translate(65.95,304.20) scale(0.440)" font-size="10" text-anchor="middle" fill="#8c8c8c" text-rendering="geometricPrecision">≥ 50 yrs</text>
<text transform="translate(65.95,310.60) scale(0.440)" font-size="10" text-anchor="middle" fill="#8c8c8c" text-rendering="geometricPrecision">(n = 42)</text>
<text transform="translate(96.60,291.30) scale(0.440)" font-size="10" text-anchor="middle" fill="#8c8c8c" text-rendering="geometricPrecision">6%</text>
<text transform="translate(96.60,297.70) scale(0.440)" font-size="10" text-anchor="middle" fill="#8c8c8c" text-rendering="geometricPrecision">(95%CI:2-19)</text>
<text transform="translate(96.60,304.20) scale(0.440)" font-size="10" text-anchor="middle" fill="#8c8c8c" text-rendering="geometricPrecision">24%</text>
<text transform="translate(96.60,310.60) scale(0.440)" font-size="10" text-anchor="middle" fill="#8c8c8c" text-rendering="geometricPrecision">(95%CI:14-41)</text>
<text transform="translate(145.10,291.30) scale(0.440)" font-size="10" text-anchor="middle" fill="#8c8c8c" text-rendering="geometricPrecision">15%</text>
<text transform="translate(145.10,297.70) scale(0.440)" font-size="10" text-anchor="middle" fill="#8c8c8c" text-rendering="geometricPrecision">(95%CI:7-29)</text>
<text transform="translate(145.10,304.20) scale(0.440)" font-size="10" text-anchor="middle" fill="#8c8c8c" text-rendering="geometricPrecision">2%</text>
<text transform="translate(145.10,310.60) scale(0.440)" font-size="10" text-anchor="middle" fill="#8c8c8c" text-rendering="geometricPrecision">(95%CI:&lt;1-17)</text>
<text transform="translate(194.40,291.30) scale(0.440)" font-size="10" text-anchor="middle" fill="#8c8c8c" text-rendering="geometricPrecision">89%</text>
<text transform="translate(194.40,297.70) scale(0.440)" font-size="10" text-anchor="middle" fill="#8c8c8c" text-rendering="geometricPrecision">(95%CI:80-99)</text>
<text transform="translate(194.40,304.20) scale(0.440)" font-size="10" text-anchor="middle" fill="#8c8c8c" text-rendering="geometricPrecision">73%</text>
<text transform="translate(194.40,310.60) scale(0.440)" font-size="10" text-anchor="middle" fill="#8c8c8c" text-rendering="geometricPrecision">(95%CI:61-88)</text>
<text transform="translate(121.90,301.00) scale(0.440)" font-size="10" text-anchor="middle" fill="#8c8c8c" text-rendering="geometricPrecision">0.019</text>
<text transform="translate(169.75,301.00) scale(0.440)" font-size="10" text-anchor="middle" fill="#8c8c8c" text-rendering="geometricPrecision">0.170</text>
<text transform="translate(219.65,301.00) scale(0.440)" font-size="10" text-anchor="middle" fill="#8c8c8c" text-rendering="geometricPrecision">0.047</text>
<rect x="0" y="0" width="520" height="1" fill="#111"/>
<rect x="0" y="0" width="1.2" height="709" fill="#111"/>
<rect x="518.5" y="0" width="1.5" height="709" fill="#111"/>
<rect x="0" y="707.5" width="520" height="1.5" fill="#111"/>
</svg>
</body></html>
